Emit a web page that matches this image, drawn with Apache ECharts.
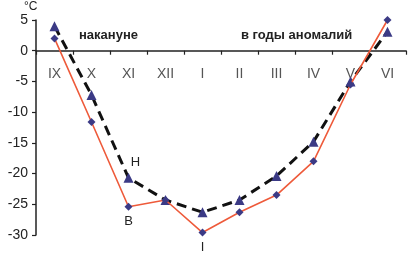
<!DOCTYPE html>
<html><head><meta charset="utf-8">
<script src="https://cdn.jsdelivr.net/npm/echarts@6/dist/echarts.min.js"></script>
<style>html,body{margin:0;padding:0;background:#fff}#c{width:408px;height:256px}</style>
</head><body><div id="c"></div>
<script>
const months = ['IX','X','XI','XII','I','II','III','IV','V','VI'];
const yTicks = [5, 0, -5, -10, -15, -20, -25, -30];
const before = [4, -7.2, -20.7, -24.3, -26.3, -24.3, -20.4, -14.8, -5, 3.1];   // накануне
const anomaly = [2, -11.6, -25.4, -24.3, -29.6, -26.3, -23.5, -18, -5.5, 5];   // в годы аномалий
const pointNotes = { before: { 2: 'Н' }, anomaly: { 2: 'В', 4: 'I' } };

const F = '"Liberation Sans", Arial, sans-serif';
const H = 256, TOP = 20, BOTTOM = 21;
const yMin = Math.min(...yTicks), yMax = Math.max(...yTicks);
const plotH = H - TOP - BOTTOM;
const zeroOffset = -plotH * (0 - yMin) / (yMax - yMin);

function withNotes(vals, notes, pos, offset) {
  return vals.map((v, i) => notes[i] ? {
    value: v,
    label: { show: true, formatter: notes[i], position: pos, offset: offset,
             fontFamily: F, fontSize: 13, color: '#222', distance: 4 }
  } : v);
}
const chart = echarts.init(document.getElementById('c'));
chart.setOption({
  animation: false,
  grid: { left: 36, right: 2, top: TOP, bottom: BOTTOM },
  xAxis: {
    type: 'category', data: months, boundaryGap: true,
    offset: zeroOffset,
    axisLine: { onZero: false, lineStyle: { color: '#222', width: 1.5 } },
    axisTick: { show: true, length: 4, lineStyle: { color: '#222', width: 1.2 } },
    axisLabel: { margin: 16, fontFamily: F, fontSize: 14, color: '#555' }
  },
  yAxis: {
    type: 'value', min: yMin, max: yMax, interval: 5,
    splitLine: { show: false },
    axisLine: { show: true, lineStyle: { color: '#222', width: 1.5 } },
    axisTick: { show: true, length: 4, lineStyle: { color: '#222', width: 1.2 } },
    axisLabel: { margin: 8, fontFamily: F, fontSize: 14, color: '#222' }
  },
  graphic: [
    { type: 'text', left: 24, top: 1, style: { text: '°C', font: '12px ' + F, fill: '#222' } },
    { type: 'text', left: 79, top: 29, style: { text: 'накануне', font: 'bold 13px ' + F, fill: '#222' } },
    { type: 'text', left: 241, top: 29, style: { text: 'в годы аномалий', font: 'bold 13px ' + F, fill: '#222' } }
  ],
  series: [
    {
      name: 'накануне', type: 'line', clip: false,
      data: withNotes(before, pointNotes.before, 'top', [7, 0]),
      symbol: 'triangle', symbolSize: 10,
      itemStyle: { color: '#3b3a85' },
      lineStyle: { color: '#111', width: 3, type: [10, 6] },
      z: 2
    },
    {
      name: 'в годы аномалий', type: 'line', clip: false,
      data: withNotes(anomaly, pointNotes.anomaly, 'bottom', [0, 0]),
      symbol: 'diamond', symbolSize: 8,
      itemStyle: { color: '#3b3a85' },
      lineStyle: { color: '#ee5a3a', width: 1.6 },
      z: 3
    }
  ]
});
</script></body></html>
